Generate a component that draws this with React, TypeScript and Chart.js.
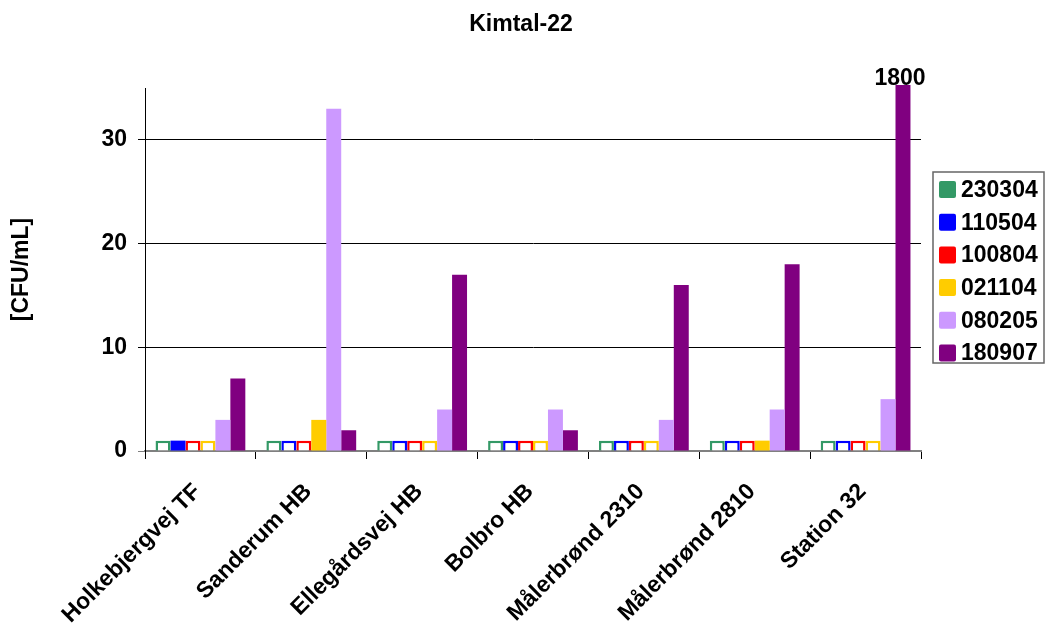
import React, { useEffect, useRef } from 'react';
import { Chart, registerables } from 'chart.js';

Chart.register(...registerables);

const title = 'Kimtal-22';
const yTitle = '[CFU/mL]';
const categories = [
  'Holkebjergvej TF',
  'Sanderum HB',
  'Ellegårdsvej HB',
  'Bolbro HB',
  'Målerbrønd 2310',
  'Målerbrønd 2810',
  'Station 32',
];
const seriesNames = ['230304', '110504', '100804', '021104', '080205', '180907'];
const seriesColors = ['#339966', '#0000FF', '#FF0000', '#FFCC00', '#CC99FF', '#800080'];

const v230304 = [1, 1, 1, 1, 1, 1, 1];
const v110504 = [1, 1, 1, 1, 1, 1, 1];
const v100804 = [1, 1, 1, 1, 1, 1, 1];
const v021104 = [1, 3, 1, 1, 1, 1, 1];
const v080205 = [3, 33, 4, 4, 3, 4, 5];
const v180907 = [7, 2, 17, 2, 16, 18, 1800];

// true = below detection limit, drawn as hollow bar
const h230304 = [true, true, true, true, true, true, true];
const h110504 = [false, true, true, true, true, true, true];
const h100804 = [true, true, true, true, true, true, true];
const h021104 = [true, false, true, true, true, false, true];
const h080205 = [false, false, false, false, false, false, false];
const h180907 = [false, false, false, false, false, false, false];

const yTicks = [0, 10, 20, 30];
const yMax = 35;

const FONT = "'Liberation Sans', Arial, sans-serif";
const FS = 23;

export default function App() {
  const ref = useRef<HTMLCanvasElement>(null);

  useEffect(() => {
    document.body.style.margin = '0';
    const canvas = ref.current;
    if (!canvas) return;
    const values = [v230304, v110504, v100804, v021104, v080205, v180907];
    const hollow = [h230304, h110504, h100804, h021104, h080205, h180907];

    const datasets = seriesNames.map((name, i) => ({
      label: name,
      data: values[i],
      backgroundColor: hollow[i].map((h) => (h ? '#FFFFFF' : seriesColors[i])),
      borderColor: seriesColors[i],
      borderWidth: hollow[i].map((h) => (h ? 2.5 : 0)),
      borderSkipped: 'start' as const,
      barPercentage: 1,
      categoryPercentage: 0.81,
      clip: { left: 0, top: 3, right: 0, bottom: 0 },
    }));

    const decor = {
      id: 'decor',
      afterDraw(chart: any) {
        const ctx = chart.ctx;
        const area = chart.chartArea;
        const xs = chart.scales.x;
        ctx.save();
        ctx.fillStyle = '#000';
        ctx.font = `bold ${FS}px ${FONT}`;
        // title
        ctx.textAlign = 'center';
        ctx.textBaseline = 'middle';
        ctx.fillText(title, 521, 25);
        // y title
        ctx.save();
        ctx.translate(22, (area.top + area.bottom) / 2);
        ctx.rotate(-Math.PI / 2);
        ctx.fillText(yTitle, 0, 0);
        ctx.restore();
        // category labels, rotated 45°
        categories.forEach((c, i) => {
          const cx = xs.getPixelForValue(i);
          ctx.save();
          ctx.translate(cx - 3, area.bottom + 37);
          ctx.rotate(-Math.PI / 4);
          ctx.textAlign = 'right';
          ctx.textBaseline = 'middle';
          ctx.fillText(c, 0, 0);
          ctx.restore();
        });
        // value labels for bars beyond the axis maximum
        chart.data.datasets.forEach((ds: any, di: number) => {
          const meta = chart.getDatasetMeta(di);
          ds.data.forEach((v: number, i: number) => {
            if (v > yMax) {
              const bar = meta.data[i];
              ctx.textAlign = 'center';
              ctx.textBaseline = 'alphabetic';
              ctx.fillText(String(v), bar.x - 3, area.top - 3);
            }
          });
        });
        // legend
        const bx = 933, by = 172, bw = 111, bh = 191;
        ctx.strokeStyle = '#666';
        ctx.lineWidth = 1.5;
        ctx.strokeRect(bx, by, bw, bh);
        ctx.textAlign = 'left';
        ctx.textBaseline = 'middle';
        seriesNames.forEach((n, i) => {
          const cy = 189.5 + i * 32.7;
          ctx.fillStyle = seriesColors[i];
          ctx.beginPath();
          if ((ctx as any).roundRect) (ctx as any).roundRect(939, cy - 8.5, 17, 17, 2);
          else ctx.rect(939, cy - 8.5, 17, 17);
          ctx.fill();
          ctx.fillStyle = '#000';
          ctx.fillText(n, 961, cy + 1);
        });
        ctx.restore();
      },
    };

    const chart = new Chart(canvas, {
      type: 'bar',
      data: { labels: categories, datasets },
      plugins: [decor],
      options: {
        responsive: false,
        animation: false,
        events: [],
        layout: { padding: { left: 0, right: 125, top: 88, bottom: 0 } },
        plugins: {
          legend: { display: false },
          title: { display: false },
          tooltip: { enabled: false },
        },
        scales: {
          x: {
            type: 'category',
            offset: true,
            grid: {
              offset: true,
              drawOnChartArea: false,
              drawTicks: true,
              tickLength: 8,
              color: '#000',
              lineWidth: 1,
            },
            border: { display: true, color: '#808080', width: 2 },
            ticks: { display: false, autoSkip: false },
            afterFit: (scale: any) => {
              scale.height = 173;
            },
          },
          y: {
            min: 0,
            max: yMax,
            afterBuildTicks: (scale: any) => {
              scale.ticks = yTicks.map((v) => ({ value: v }));
            },
            grid: {
              color: (c: any) => (c.tick && c.tick.value === 0 ? '#808080' : '#000'),
              tickColor: (c: any) => (c.tick && c.tick.value === 0 ? '#808080' : '#000'),
              lineWidth: 1,
              drawTicks: true,
              tickLength: 7,
            },
            border: { display: true, color: '#000', width: 1 },
            ticks: {
              color: '#000',
              font: { family: FONT, size: FS, weight: 'bold' },
              padding: 11,
            },
            afterFit: (scale: any) => {
              scale.width = 145;
            },
          },
        },
      },
    });
    return () => chart.destroy();
  }, []);

  return <canvas ref={ref} width={1046} height={624} style={{ display: 'block' }} />;
}
